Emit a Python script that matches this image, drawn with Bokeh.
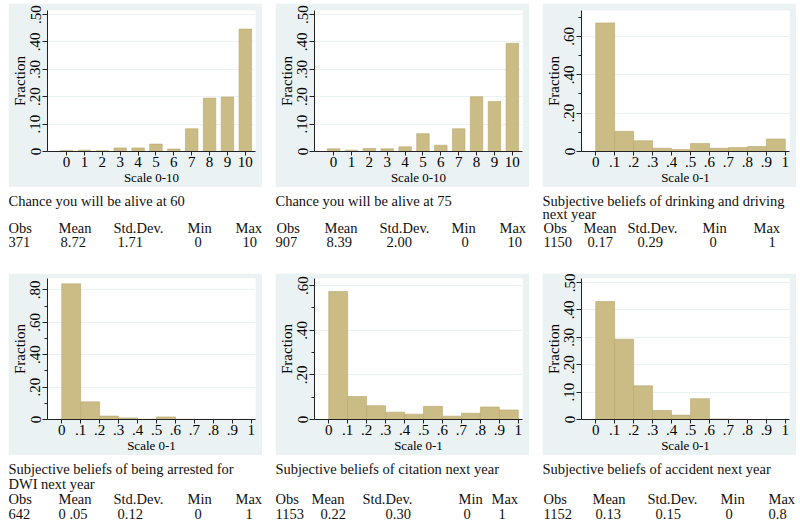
from bokeh.plotting import figure
from bokeh.models import Range1d, FixedTicker
from bokeh.layouts import row, column
from bokeh.embed import file_html
from bokeh.resources import INLINE
from bokeh.core.properties import value

# ---------------- data ----------------
scale10_x = [0, 1, 2, 3, 4, 5, 6, 7, 8, 9, 10]
scale10_labels = ["0", "1", "2", "3", "4", "5", "6", "7", "8", "9", "10"]
alive60 = [0.004, 0.005, 0.003, 0.013, 0.013, 0.027, 0.009, 0.083, 0.195, 0.199, 0.447]
alive75 = [0.010, 0.005, 0.011, 0.010, 0.017, 0.065, 0.023, 0.083, 0.200, 0.183, 0.395]

bin_edges = [0.0, 0.1, 0.2, 0.3, 0.4, 0.5, 0.6, 0.7, 0.8, 0.9, 1.0]
scale1_labels = ["0", ".1", ".2", ".3", ".4", ".5", ".6", ".7", ".8", ".9", "1"]
drink = [0.670, 0.105, 0.056, 0.017, 0.010, 0.042, 0.017, 0.021, 0.026, 0.065]
arrest = [0.837, 0.109, 0.021, 0.010, 0.002, 0.016, 0.002, 0.001, 0.001, 0.001]
citation = [0.574, 0.103, 0.062, 0.033, 0.024, 0.059, 0.015, 0.028, 0.056, 0.043]
accident = [0.431, 0.293, 0.123, 0.033, 0.016, 0.076, 0.002, 0.001, 0.0, 0.0]

yt_50 = [0, 0.1, 0.2, 0.3, 0.4, 0.5]
yl_50 = ["0", ".10", ".20", ".30", ".40", ".50"]
yt_60 = [0, 0.2, 0.4, 0.6]
yl_60 = ["0", ".20", ".40", ".60"]
yt_80 = [0, 0.2, 0.4, 0.6, 0.8]
yl_80 = ["0", ".20", ".40", ".60", ".80"]
ym_70 = [0.1, 0.3, 0.5, 0.7]
ym_50 = [0.1, 0.3, 0.5]

captions = [
    ["Chance you will be alive at 60"],
    ["Chance you will be alive at 75"],
    ["Subjective beliefs of drinking and driving", "next year"],
    ["Subjective beliefs of being arrested for", "DWI next year"],
    ["Subjective beliefs of citation next year"],
    ["Subjective beliefs of accident next year"],
]
stat_headers = ["Obs", "Mean", "Std.Dev.", "Min", "Max"]
stat_obs = ["371", "907", "1150", "642", "1153", "1152"]
stat_mean = ["8.72", "8.39", "0.17", "0 .05", "0.22", "0.13"]
stat_sd = ["1.71", "2.00", "0.29", "0.12", "0.30", "0.15"]
stat_min = ["0", "0", "0", "0", "0", "0"]
stat_max = ["10", "10", "1", "1", "1", "0.8"]

# ---------------- style ----------------
BG = "#eaf2f3"
BAR = "#cbbb85"
BAR_LINE = "#b8a770"
FONT = "Liberation Serif"

header_x = [
    [0, 50, 105, 179, 227],
    [1, 49, 104, 176, 224],
    [1, 41, 85, 160, 211],
    [0, 50, 105, 179, 227],
    [0, 36, 87, 183, 216],
    [1, 50, 105, 178, 226],
]
value_x = [
    [0, 52, 109, 186, 234],
    [0, 51, 111, 186, 232],
    [1, 45, 95, 167, 226],
    [0, 50, 109, 186, 237],
    [0, 45, 110, 188, 223],
    [1, 53, 113, 183, 226],
]


def hist_fig(width, height, top_border, xr, yr, xticks, xlabels, yticks, ylabels, yminor, xlabel):
    p = figure(width=width, height=height, x_range=Range1d(*xr), y_range=Range1d(*yr),
               output_backend="svg", toolbar_location=None, frame_align=False,
               min_border_left=39, min_border_right=7, min_border_top=top_border,
               min_border_bottom=36)
    p.border_fill_color = BG
    p.background_fill_color = "white"
    p.outline_line_color = None
    p.xgrid.visible = False
    p.ygrid.ticker = FixedTicker(ticks=yticks)
    p.ygrid.grid_line_color = BG
    p.ygrid.grid_line_width = 1

    xa = p.xaxis[0]
    xa.ticker = FixedTicker(ticks=xticks)
    xa.major_label_overrides = dict(zip(xticks, xlabels))
    xa.axis_label = xlabel
    xa.axis_label_text_font = FONT
    xa.axis_label_text_font_size = "13px"
    xa.axis_label_text_font_style = "normal"
    xa.axis_label_standoff = 0
    xa.major_label_text_font = FONT
    xa.major_label_text_font_size = "15px"
    xa.major_label_standoff = 1
    xa.major_tick_out = 4
    xa.major_tick_in = 0
    xa.minor_tick_out = 0
    xa.axis_line_color = "#222222"
    xa.major_tick_line_color = "#222222"

    ya = p.yaxis[0]
    ya.ticker = FixedTicker(ticks=yticks, minor_ticks=yminor)
    ya.major_label_overrides = dict(zip(yticks, ylabels))
    ya.major_label_orientation = "vertical"
    ya.axis_label = "Fraction"
    ya.axis_label_text_font = FONT
    ya.axis_label_text_font_size = "15px"
    ya.axis_label_text_font_style = "normal"
    ya.axis_label_standoff = 0
    ya.major_label_text_font = FONT
    ya.major_label_text_font_size = "15px"
    ya.major_label_standoff = 2
    ya.major_tick_out = 5
    ya.major_tick_in = 0
    ya.minor_tick_out = 3
    ya.minor_tick_in = 0
    ya.axis_line_color = "#222222"
    ya.major_tick_line_color = "#222222"
    ya.minor_tick_line_color = "#222222"
    for ax in (xa, ya):
        ax.major_label_text_color = "black"
        ax.axis_label_text_color = "black"
    return p


def text_fig(width, height, idx, base):
    t = figure(width=width, height=height, x_range=Range1d(0, width), y_range=Range1d(height, 0),
               output_backend="svg", toolbar_location=None, min_border=0, frame_align=False,
               x_axis_location=None, y_axis_location=None)
    t.grid.visible = False
    t.outline_line_color = None
    t.border_fill_color = "white"
    t.background_fill_color = "white"
    cap = captions[idx]
    t.text(x=[0] * len(cap), y=base[:len(cap)], text=cap,
           text_font=value(FONT), text_font_size="14.5px", text_baseline="alphabetic",
           text_align="left", text_color="#111111")
    t.text(x=header_x[idx], y=[base[2]] * 5, text=stat_headers,
           text_font=value(FONT), text_font_size="14.5px", text_baseline="alphabetic",
           text_align="left", text_color="#111111")
    vals = [stat_obs[idx], stat_mean[idx], stat_sd[idx], stat_min[idx], stat_max[idx]]
    t.text(x=value_x[idx], y=[base[3]] * 5, text=vals,
           text_font=value(FONT), text_font_size="14.5px", text_baseline="alphabetic",
           text_align="left", text_color="#111111")
    return t


W = 254
X10 = (-1.07, 10.57)
X1 = (-0.075, 1.022)

h1 = hist_fig(W, 184, 7, X10, (0, 0.515), scale10_x, scale10_labels, yt_50, yl_50, [], "Scale 0-10")
h1.vbar(x=scale10_x, top=alive60, width=0.7, fill_color=BAR, line_color=BAR_LINE, line_width=0.6)
h2 = hist_fig(W, 184, 7, X10, (0, 0.515), scale10_x, scale10_labels, yt_50, yl_50, [], "Scale 0-10")
h2.vbar(x=scale10_x, top=alive75, width=0.7, fill_color=BAR, line_color=BAR_LINE, line_width=0.6)
h3 = hist_fig(W, 184, 7, X1, (0, 0.735), bin_edges, scale1_labels, yt_60, yl_60, ym_70, "Scale 0-1")
h3.quad(left=bin_edges[:-1], right=bin_edges[1:], bottom=0, top=drink,
        fill_color=BAR, line_color=BAR_LINE, line_width=0.6)
h4 = hist_fig(W, 182, 5, X1, (0, 0.87), bin_edges, scale1_labels, yt_80, yl_80, ym_70, "Scale 0-1")
h4.quad(left=bin_edges[:-1], right=bin_edges[1:], bottom=0, top=arrest,
        fill_color=BAR, line_color=BAR_LINE, line_width=0.6)
h5 = hist_fig(W, 182, 5, X1, (0, 0.632), bin_edges, scale1_labels, yt_60, yl_60, ym_50, "Scale 0-1")
h5.quad(left=bin_edges[:-1], right=bin_edges[1:], bottom=0, top=citation,
        fill_color=BAR, line_color=BAR_LINE, line_width=0.6)
h6 = hist_fig(W, 182, 5, X1, (0, 0.515), bin_edges, scale1_labels, yt_50, yl_50, [], "Scale 0-1")
h6.quad(left=bin_edges[:-1], right=bin_edges[1:], bottom=0, top=accident,
        fill_color=BAR, line_color=BAR_LINE, line_width=0.6)

B1 = [13, 26.7, 40, 54]
B2 = [13.7, 28, 43, 58]
t1 = text_fig(W, 86, 0, B1)
t2 = text_fig(W, 86, 1, B1)
t3 = text_fig(W, 86, 2, B1)
t4 = text_fig(W, 68, 3, B2)
t5 = text_fig(W, 68, 4, B2)
t6 = text_fig(W, 68, 5, B2)

r1 = row(column(h1, t1, spacing=0), column(h2, t2, spacing=0), column(h3, t3, spacing=0), spacing=13)
r2 = row(column(h4, t4, spacing=0), column(h5, t5, spacing=0), column(h6, t6, spacing=0), spacing=13)
root = column(r1, r2, spacing=0, margin=(3, 0, 0, 8))

open("out.html", "w").write(file_html(root, INLINE))
